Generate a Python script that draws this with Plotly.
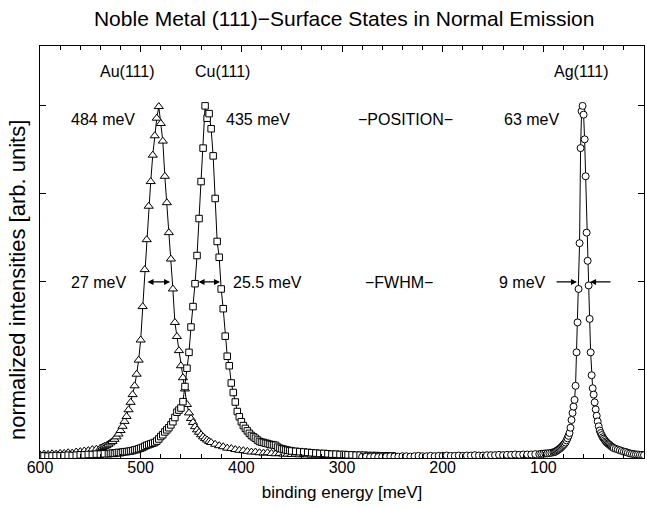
import plotly.graph_objects as go

# ---------------- data ----------------
energy_au = [600, 596, 592, 588, 584, 580, 576, 572, 568, 564, 560, 556, 552, 548, 544, 540,
             538, 536, 534, 532, 530, 528, 526, 524, 522, 520, 518, 516, 514, 512, 510, 508, 506, 504, 502, 500,
             498, 496, 494, 492, 490, 488, 486, 484, 482, 480, 478, 476, 474, 472, 470, 468, 466, 464, 462, 460,
             458, 456, 454, 452, 450, 448, 446, 444, 442, 440, 438, 436, 434, 432, 430,
             426, 422, 418, 414, 410, 406, 402, 398, 394, 390, 386, 382, 378, 374, 370, 366, 362, 358, 354, 350,
             346, 342, 338, 334, 330, 326, 322, 318, 314, 310, 306, 302, 298, 294, 290, 286, 282, 278, 274, 270]
intensity_au = [0.009, 0.011, 0.010, 0.012, 0.011, 0.013, 0.013, 0.015, 0.014, 0.017, 0.018, 0.020, 0.021, 0.024, 0.025, 0.028,
                0.030, 0.033, 0.035, 0.039, 0.043, 0.047, 0.053, 0.060, 0.068, 0.078, 0.090, 0.104, 0.118, 0.137, 0.158, 0.180, 0.205, 0.238, 0.278, 0.335,
                0.430, 0.535, 0.620, 0.715, 0.785, 0.860, 0.915, 0.965, 0.998, 0.950, 0.900, 0.800, 0.725, 0.640, 0.565, 0.480, 0.385, 0.345, 0.305, 0.262,
                0.228, 0.196, 0.152, 0.128, 0.112, 0.101, 0.089, 0.080, 0.073, 0.066, 0.060, 0.055, 0.051, 0.047, 0.044,
                0.039, 0.035, 0.032, 0.028, 0.027, 0.024, 0.022, 0.021, 0.019, 0.017, 0.017, 0.015, 0.014, 0.015, 0.013, 0.012, 0.013, 0.011, 0.011, 0.010,
                0.011, 0.009, 0.010, 0.009, 0.008, 0.009, 0.008, 0.007, 0.008, 0.007, 0.007, 0.006, 0.007, 0.006, 0.006, 0.005, 0.006, 0.005, 0.005, 0.005]

energy_cu = [600, 596, 592, 588, 584, 580, 576, 572, 568, 564, 560, 556, 552, 548, 544, 540, 536, 532,
             530, 528, 526, 524, 522, 520, 518, 516, 514, 512, 510, 508, 506, 504, 502, 500, 498, 496, 494, 492,
             490, 488, 486, 484, 482, 480, 478, 476, 474, 472, 470, 468, 466, 464, 462, 460, 458, 456, 454, 452,
             450, 448, 446, 444, 442, 440, 438, 436, 434, 432, 430, 428, 426, 424, 422, 420, 418, 416, 414, 412,
             410, 408, 406, 404, 402, 400, 398, 396, 394, 392, 390, 388, 386, 384, 382, 380, 378, 376, 374, 372,
             370, 368, 366, 364, 362, 360, 358, 356, 354, 352, 350,
             346, 342, 338, 334, 330, 326, 322, 318, 314, 310, 306, 302, 298, 294, 290, 286, 282, 278, 274, 270,
             266, 262, 258, 254, 250]
intensity_cu = [0.005, 0.006, 0.005, 0.006, 0.007, 0.006, 0.007, 0.008, 0.007, 0.008, 0.009, 0.009, 0.010, 0.010, 0.011, 0.011, 0.012, 0.012,
                0.013, 0.014, 0.013, 0.015, 0.016, 0.015, 0.017, 0.018, 0.018, 0.019, 0.020, 0.021, 0.023, 0.024, 0.026, 0.028, 0.030, 0.033, 0.036, 0.038,
                0.040, 0.042, 0.044, 0.048, 0.054, 0.061, 0.066, 0.074, 0.080, 0.086, 0.094, 0.103, 0.115, 0.130, 0.136, 0.142, 0.160, 0.203, 0.255, 0.300,
                0.372, 0.430, 0.495, 0.575, 0.680, 0.785, 0.880, 1.000, 0.965, 0.978, 0.935, 0.858, 0.737, 0.615, 0.570, 0.480, 0.424, 0.346, 0.289, 0.262,
                0.213, 0.186, 0.159, 0.132, 0.117, 0.103, 0.092, 0.084, 0.077, 0.070, 0.064, 0.060, 0.056, 0.051, 0.047, 0.045, 0.044, 0.042, 0.041, 0.039,
                0.038, 0.037, 0.036, 0.031, 0.028, 0.026, 0.025, 0.023, 0.022, 0.021, 0.020,
                0.019, 0.018, 0.017, 0.016, 0.015, 0.014, 0.013, 0.013, 0.012, 0.011, 0.011, 0.010, 0.010, 0.009, 0.009, 0.008, 0.008, 0.008, 0.007, 0.007,
                0.007, 0.006, 0.006, 0.006, 0.006]

energy_ag = [280, 276, 272, 268, 264, 260, 256, 252, 248, 244, 240, 236, 232, 228, 224, 220, 216, 212, 208, 204,
             200, 196, 192, 188, 184, 180, 176, 172, 168, 164, 160, 156, 152, 148, 144, 140, 136, 132, 128, 124,
             120, 116, 112, 108, 104, 102, 100, 98, 96, 94, 92,
             90, 89, 88, 87, 86, 85, 84, 83, 82, 81, 80, 79, 78, 77, 76, 75, 74, 73, 72, 71,
             70, 69, 68, 67, 66, 65, 64, 63, 62, 61, 60, 59, 58, 57, 56, 55, 54, 53, 52, 51,
             50, 49, 48, 47, 46, 45, 44, 43, 42, 41, 40, 39, 38, 37, 36, 35, 34, 33, 32, 31, 30,
             28, 26, 24, 22, 20, 18, 16, 14, 12, 10, 8, 6, 4, 2, 0]
intensity_ag = [0.003, 0.004, 0.003, 0.004, 0.003, 0.004, 0.004, 0.005, 0.004, 0.004, 0.005, 0.005, 0.004, 0.005, 0.006, 0.005, 0.005, 0.006, 0.005, 0.006,
                0.006, 0.007, 0.006, 0.006, 0.007, 0.006, 0.007, 0.007, 0.008, 0.007, 0.007, 0.008, 0.008, 0.008, 0.009, 0.008, 0.009, 0.009, 0.010, 0.009,
                0.010, 0.010, 0.010, 0.011, 0.011, 0.012, 0.012, 0.013, 0.013, 0.014, 0.015,
                0.016, 0.017, 0.018, 0.020, 0.022, 0.024, 0.026, 0.028, 0.031, 0.034, 0.037, 0.040, 0.044, 0.050, 0.056, 0.063, 0.071, 0.086, 0.108, 0.128,
                0.146, 0.165, 0.205, 0.300, 0.385, 0.480, 0.610, 0.880, 0.985, 1.000, 0.975, 0.905, 0.800, 0.640, 0.560, 0.490, 0.395, 0.300, 0.235, 0.198,
                0.180, 0.158, 0.138, 0.120, 0.104, 0.090, 0.078, 0.071, 0.065, 0.059, 0.055, 0.051, 0.047, 0.044, 0.041, 0.039, 0.037, 0.034, 0.032, 0.030, 0.028,
                0.026, 0.024, 0.022, 0.020, 0.018, 0.017, 0.015, 0.013, 0.012, 0.011, 0.010, 0.010, 0.009, 0.009, 0.008]

x_tick_values = [600, 500, 400, 300, 200, 100, 0]
x_tick_labels = ["600", "500", "400", "300", "200", "100", "0"]
y_tick_values = [0.25, 0.5, 0.75, 1.0]

state_names = ["Au(111)", "Cu(111)", "Ag(111)"]
state_name_x = [513.5, 419.0, 62.5]
position_labels = ["484 meV", "435 meV", "\u2212POSITION\u2212", "63 meV"]
position_x = [537.0, 383.5, 236.5, 112.0]
fwhm_labels = ["27 meV", "25.5 meV", "\u2212FWHM\u2212", "9 meV"]
fwhm_x = [542.0, 374.5, 243.5, 121.0]
# FWHM arrows (tail energy, head energy, double headed?)
arrow_tail = [494.7, 444.0, 88.4, 31.8]
arrow_head = [470.8, 421.2, 66.6, 53.6]
arrow_double = [True, True, False, False]

FONT = "Liberation Sans, Arial, Helvetica, sans-serif"

fig = go.Figure()

series = [
    (energy_au, intensity_au, "triangle-up", 8),
    (energy_cu, intensity_cu, "square", 6.5),
    (energy_ag, intensity_ag, "circle", 7),
]
for xs, ys, sym, size in series:
    fig.add_trace(go.Scatter(
        x=xs, y=ys, mode="lines+markers",
        line=dict(color="black", width=1),
        marker=dict(symbol=sym, size=size, color="white",
                    line=dict(color="black", width=1)),
        showlegend=False, cliponaxis=True,
    ))

annotations = []
for name, xv in zip(state_names, state_name_x):
    annotations.append(dict(x=xv, y=1.097, xref="x", yref="y", text=name,
                            showarrow=False, font=dict(size=16, color="black", family=FONT)))
for t, xv in zip(position_labels, position_x):
    annotations.append(dict(x=xv, y=0.962, xref="x", yref="y", text=t,
                            showarrow=False, font=dict(size=16, color="black", family=FONT)))
for t, xv in zip(fwhm_labels, fwhm_x):
    annotations.append(dict(x=xv, y=0.497, xref="x", yref="y", text=t,
                            showarrow=False, font=dict(size=16, color="black", family=FONT)))
for tail, head, dbl in zip(arrow_tail, arrow_head, arrow_double):
    annotations.append(dict(x=head, y=0.5, ax=tail, ay=0.5, xref="x", yref="y",
                            axref="x", ayref="y", text="", showarrow=True,
                            arrowhead=2, startarrowhead=2, arrowsize=1, startarrowsize=1,
                            arrowwidth=1.2, arrowcolor="black",
                            arrowside="end+start" if dbl else "end"))
# y-axis title (placed like the reference, slightly below the plot centre)
annotations.append(dict(x=-0.038, y=0.432, xref="paper", yref="paper",
                        text="normalized intensities [arb. units]", textangle=-90,
                        showarrow=False, xanchor="center", yanchor="middle",
                        font=dict(size=22, color="black", family=FONT)))

fig.update_layout(
    width=647, height=508,
    margin=dict(l=40, r=3, t=46, b=50, autoexpand=False),
    paper_bgcolor="white", plot_bgcolor="white",
    font=dict(family=FONT, color="black", size=16),
    title=dict(text="Noble Metal (111)\u2212Surface States in Normal Emission",
               x=0.532, xanchor="center", y=0.963, yanchor="middle", yref="container",
               font=dict(size=21, family=FONT, color="black")),
    annotations=annotations,
    showlegend=False,
)
fig.update_xaxes(
    range=[600, 0], tickmode="array", tickvals=x_tick_values, ticktext=x_tick_labels,
    ticks="inside", ticklen=6, tickwidth=1, tickcolor="black",
    showline=True, linecolor="black", linewidth=1, mirror="allticks",
    showgrid=False, zeroline=False, automargin=False, ticklabelstandoff=-5,
    tickfont=dict(size=16, family=FONT, color="black"),
    minor=dict(dtick=20, tick0=0, ticks="inside", ticklen=4, tickcolor="black", showgrid=False),
    title=dict(text="binding energy [meV]", standoff=10, font=dict(size=17, family=FONT, color="black")),
)
fig.update_yaxes(
    range=[0, 1.17], tickmode="array", tickvals=y_tick_values, showticklabels=False,
    ticks="inside", ticklen=6, tickwidth=1, tickcolor="black",
    showline=True, linecolor="black", linewidth=1, mirror="allticks",
    showgrid=False, zeroline=False, automargin=False,
)

fig.write_html("out.html",
               config={"displayModeBar": False},
               post_script="document.body.style.margin='0px';document.body.style.padding='0px';")
